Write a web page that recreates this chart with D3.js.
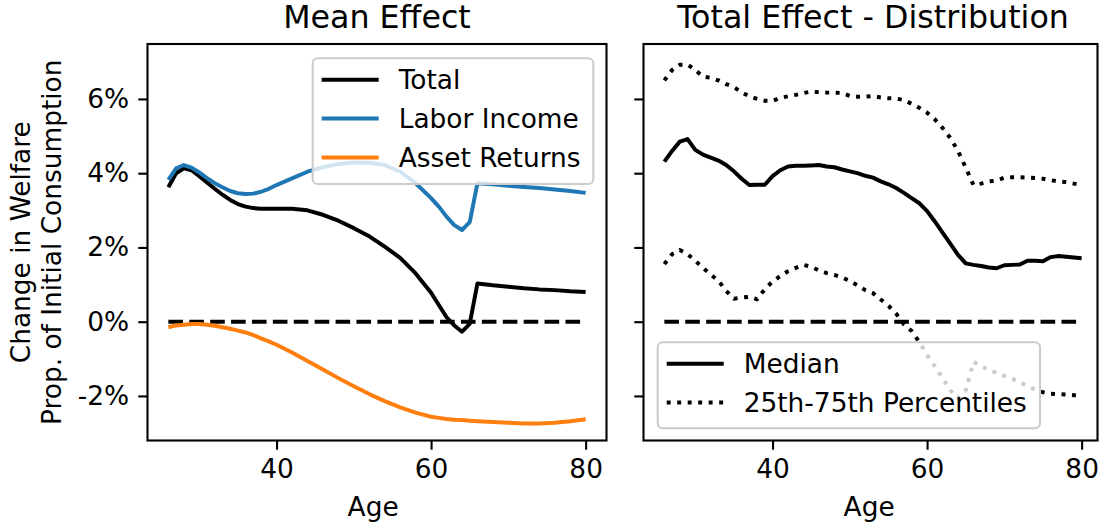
<!DOCTYPE html>
<html>
<head>
<meta charset="utf-8">
<script src="https://cdn.jsdelivr.net/npm/d3@7"></script>
<style>
  body { margin: 0; background: #fff; }
  svg { font-family: "DejaVu Sans", sans-serif; }
</style>
</head>
<body>
<div id="vis"></div>
<script>
const FRAME_WIDTH = 1100;
const FRAME_HEIGHT = 525;

// left panel: mean effect by age
const meanAges = [26,27,28,29,30,31,32,33,34,35,36,37,38,39,40,42,44,46,48,50,52,54,56,58,60,61,62,63,64,65,66,68,70,72,74,76,78,80];
const totalEffect = [3.62,4.00,4.13,4.08,3.92,3.75,3.58,3.42,3.28,3.17,3.10,3.06,3.04,3.04,3.04,3.04,3.00,2.88,2.72,2.52,2.30,2.02,1.72,1.30,0.78,0.45,0.12,-0.10,-0.27,-0.06,1.03,0.98,0.94,0.90,0.87,0.85,0.82,0.80];
const laborIncome = [3.82,4.13,4.22,4.15,4.02,3.87,3.73,3.62,3.52,3.46,3.44,3.45,3.50,3.58,3.68,3.86,4.04,4.16,4.25,4.29,4.28,4.22,4.04,3.73,3.33,3.10,2.83,2.60,2.47,2.68,3.73,3.70,3.66,3.63,3.60,3.56,3.52,3.47];
const assetReturns = [-0.15,-0.10,-0.08,-0.06,-0.06,-0.08,-0.11,-0.15,-0.19,-0.24,-0.29,-0.36,-0.45,-0.53,-0.62,-0.83,-1.06,-1.29,-1.52,-1.74,-1.95,-2.14,-2.31,-2.45,-2.56,-2.59,-2.62,-2.64,-2.65,-2.67,-2.68,-2.70,-2.72,-2.74,-2.74,-2.72,-2.68,-2.63];

// right panel: distribution of total effect
const distAges = [26,27,28,29,30,31,32,33,34,35,36,37,38,39,40,41,42,43,44,45,46,47,48,49,50,51,52,53,54,55,56,57,58,59,60,61,62,63,64,65,66,67,68,69,70,71,72,73,74,75,76,77,78,79,80];
const medianEffect = [4.31,4.60,4.85,4.92,4.63,4.50,4.42,4.34,4.22,4.05,3.85,3.68,3.69,3.69,3.92,4.08,4.18,4.20,4.20,4.21,4.22,4.18,4.16,4.10,4.05,4.00,3.93,3.88,3.78,3.70,3.60,3.47,3.33,3.19,2.98,2.70,2.40,2.10,1.80,1.57,1.53,1.50,1.46,1.44,1.52,1.53,1.54,1.64,1.64,1.63,1.74,1.77,1.75,1.73,1.71];
const p75Effect = [6.50,6.78,6.92,6.93,6.78,6.60,6.57,6.50,6.40,6.32,6.18,6.07,6.00,5.95,5.95,6.03,6.07,6.11,6.16,6.20,6.18,6.17,6.17,6.16,6.08,6.06,6.06,6.08,6.04,6.02,6.01,5.97,5.87,5.76,5.63,5.45,5.22,4.95,4.60,4.15,3.68,3.72,3.78,3.80,3.88,3.89,3.89,3.88,3.87,3.85,3.81,3.78,3.76,3.72,3.69];
const p25Effect = [1.55,1.82,1.93,1.82,1.64,1.45,1.27,1.10,0.83,0.62,0.65,0.67,0.60,0.88,1.08,1.23,1.36,1.45,1.53,1.48,1.38,1.31,1.26,1.19,1.10,0.98,0.85,0.77,0.60,0.43,0.22,-0.07,-0.25,-0.55,-0.90,-1.20,-1.52,-1.85,-2.06,-1.85,-1.08,-1.20,-1.30,-1.38,-1.46,-1.53,-1.64,-1.73,-1.83,-1.90,-1.94,-1.95,-1.96,-1.98,-2.00];

const yTicks = [-2, 0, 2, 4, 6];
const xTicks = [40, 60, 80];
const zeroLine = [26, 80];

const FS = 26.4;
const PANEL_TOP = 44, PANEL_BOTTOM = 440.5;
const LEFT_X0 = 147.5, RIGHT_X0 = 643.5, PANEL_W = 459, RIGHT_FRAME_W = 454;

const svg = d3.select("#vis")
  .append("svg")
    .attr("width", FRAME_WIDTH)
    .attr("height", FRAME_HEIGHT);

const y = d3.scaleLinear()
  .domain([-3.2, 7.48])
  .range([PANEL_BOTTOM, PANEL_TOP]);

function makePanel(x0, frameW, title, showYLabels) {
  const x = d3.scaleLinear().domain([23.3, 82.7]).range([x0, x0 + PANEL_W]);
  const g = svg.append("g");

  // x axis
  const xa = g.append("g")
    .attr("transform", "translate(0," + PANEL_BOTTOM + ")")
    .call(d3.axisBottom(x).tickValues(xTicks).tickSize(9.2).tickPadding(9.2));
  xa.select(".domain").remove();
  xa.selectAll("line").attr("stroke", "#000").attr("stroke-width", 2.1);
  xa.selectAll("text").attr("font-size", FS).attr("font-family", "DejaVu Sans").attr("fill", "#000");

  // y axis
  const ya = g.append("g")
    .attr("transform", "translate(" + x0 + ",0)")
    .call(d3.axisLeft(y).tickValues(yTicks).tickSize(9.2).tickPadding(9.2)
      .tickFormat(d => showYLabels ? d + "%" : ""));
  ya.select(".domain").remove();
  ya.selectAll("line").attr("stroke", "#000").attr("stroke-width", 2.1);
  ya.selectAll("text").attr("font-size", FS).attr("font-family", "DejaVu Sans").attr("fill", "#000");

  g.append("text")
    .attr("x", x0 + PANEL_W / 2)
    .attr("y", 28)
    .attr("text-anchor", "middle")
    .attr("font-size", 31.7)
    .text(title);

  g.append("text")
    .attr("x", x(52.5))
    .attr("y", 516)
    .attr("text-anchor", "middle")
    .attr("font-size", FS)
    .text("Age");

  return {g: g, x: x, x0: x0, frameW: frameW};
}

function drawLine(p, xs, ys, color, dash) {
  const line = d3.line()
    .x((d, i) => p.x(xs[i]))
    .y(d => y(d));
  p.g.append("path")
    .datum(ys)
    .attr("fill", "none")
    .attr("stroke", color)
    .attr("stroke-width", 3.96)
    .attr("stroke-linejoin", "round")
    .attr("stroke-dasharray", dash || null)
    .attr("d", line);
}

function frame(p) {
  p.g.append("rect")
    .attr("x", p.x0)
    .attr("y", PANEL_TOP)
    .attr("width", p.frameW)
    .attr("height", PANEL_BOTTOM - PANEL_TOP)
    .attr("fill", "none")
    .attr("stroke", "#000")
    .attr("stroke-width", 2.1);
}

function legend(p, bx, by, bw, bh, items) {
  const lg = p.g.append("g");
  lg.append("rect")
    .attr("x", bx).attr("y", by)
    .attr("width", bw).attr("height", bh)
    .attr("rx", 5)
    .attr("fill", "#fff").attr("fill-opacity", 0.8)
    .attr("stroke", "#cccccc").attr("stroke-width", 2.1);
  items.forEach((it, i) => {
    const cy = by + 21.5 + i * 38.8;
    lg.append("line")
      .attr("x1", bx + 9).attr("x2", bx + 66)
      .attr("y1", cy).attr("y2", cy)
      .attr("stroke", it.color).attr("stroke-width", 3.96)
      .attr("stroke-dasharray", it.dash || null);
    lg.append("text")
      .attr("x", bx + 86).attr("y", cy)
      .attr("dy", "0.35em")
      .attr("font-size", FS)
      .text(it.label);
  });
}

// left panel
const left = makePanel(LEFT_X0, PANEL_W, "Mean Effect", true);
drawLine(left, zeroLine, [0, 0], "#000", "14.6,6.3");
drawLine(left, meanAges, totalEffect, "#000");
drawLine(left, meanAges, laborIncome, "#1f77b4");
drawLine(left, meanAges, assetReturns, "#ff7f0e");
frame(left);
legend(left, 312.7, 58.3, 280.6, 125.7, [
  {label: "Total", color: "#000"},
  {label: "Labor Income", color: "#1f77b4"},
  {label: "Asset Returns", color: "#ff7f0e"}
]);

// right panel
const right = makePanel(RIGHT_X0, RIGHT_FRAME_W, "Total Effect - Distribution", false);
drawLine(right, zeroLine, [0, 0], "#000", "14.6,6.3");
drawLine(right, distAges, medianEffect, "#000");
drawLine(right, distAges, p75Effect, "#000", "3.96,6.53");
drawLine(right, distAges, p25Effect, "#000", "3.96,6.53");
frame(right);
legend(right, 657.7, 342.3, 382.3, 86, [
  {label: "Median", color: "#000"},
  {label: "25th-75th Percentiles", color: "#000", dash: "3.96,6.53"}
]);

// y label, two centred lines
const yl = svg.append("text")
  .attr("transform", "translate(0," + (PANEL_TOP + PANEL_BOTTOM) / 2 + ") rotate(-90)")
  .attr("text-anchor", "middle")
  .attr("font-size", FS);
yl.append("tspan").attr("x", 0).attr("y", 30).text("Change in Welfare");
yl.append("tspan").attr("x", 0).attr("y", 61).text("Prop. of Initial Consumption");
</script>
</body>
</html>
